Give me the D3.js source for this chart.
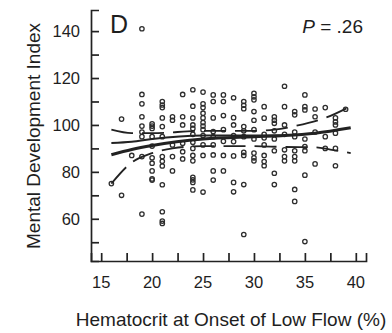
<!DOCTYPE html>
<html>
<head>
<meta charset="utf-8">
<script src="https://cdn.jsdelivr.net/npm/d3@7"></script>
<style>
  body { margin: 0; background: #fff; }
  svg text { font-family: "Liberation Sans", Arial, Helvetica, sans-serif; fill: #1e1e1e; }
</style>
</head>
<body>
<svg id="chart" width="392" height="333"></svg>
<script>
// hematocrit columns and the MDI scores
var hctColumns = [16, 17, 18, 19, 20, 21, 22, 23, 24, 25, 26, 27, 28, 29, 30, 31, 32, 33, 34, 35, 36, 37, 38, 39];
var mdiByColumn = [
  [75],
  [102.5, 70],
  [87],
  [141, 113, 109, 103.5, 99.5, 97, 95, 86.5, 62],
  [100.5, 99.5, 98.5, 95, 91, 86, 83.7, 80.4, 77, 76.5],
  [110, 108.5, 107.4, 103, 99.3, 95, 86.5, 84.5, 82.5, 74.5, 63, 59, 58],
  [103.5, 102, 91.5, 86.5, 80.4],
  [113, 103.5, 100, 92.2, 88.6, 85.5],
  [115, 108, 103, 100, 98.5, 96, 92.6, 90, 87, 84.7, 77.7, 76.6, 75.5, 72.3],
  [114, 109, 107.4, 105, 103, 101, 99.5, 98, 95.5, 91.5, 87, 71.4],
  [112.8, 110, 103, 97.2, 95, 91.5, 87.2, 80.4, 76.5],
  [112.8, 110, 104, 98, 93, 87, 80.4],
  [111.6, 103.1, 100, 95.5, 92.9, 86.8, 75.5, 71.5],
  [110, 108.4, 106.9, 99.3, 97.5, 95, 88.3, 87, 74.6, 53.3],
  [113.5, 112, 110.7, 105.7, 102, 98, 94, 88, 86, 84.7],
  [107.8, 102.9, 96, 94.5, 91.5, 87, 84.4, 82.6],
  [103.5, 102, 100.7, 97.5, 94, 89, 79.4, 74.6],
  [116.5, 107.8, 100, 96, 89.4, 86.5, 84.7],
  [105.7, 104.3, 97, 95, 89, 86.5, 84.7, 72.5, 67.4],
  [112.8, 107.8, 106.4, 94, 90.8, 89, 78.6, 50.3],
  [106.8, 103.5, 97, 83.4],
  [107.4, 95, 90],
  [103, 101.3, 100, 96.5, 90, 82.6],
  [106.7]
];

// fitted curves (x knots, y values)
var fitX = [16, 18, 20, 25, 30, 33, 36, 39.5];
var fitY = [87.3, 89.5, 91.2, 94, 95, 95.5, 96.5, 98.8];
var smoothX = [16, 18, 20, 25, 30, 33];
var smoothY = [92.3, 92.8, 94, 95.5, 95.5, 95.5];
var upperX = [16, 18, 20, 25, 30, 32, 34, 37, 39.5];
var upperY = [98, 96.5, 96.5, 97.5, 97.5, 98, 99.5, 103, 108];
var lowerX = [16, 18, 20, 22, 25, 30, 33, 36, 37.5, 39.5];
var lowerY = [75, 84, 88, 90, 91, 91, 90.6, 90.5, 89.5, 88];

var xTicks = [15, 20, 25, 30, 35, 40];
var xMinorTicks = [17.5, 22.5, 27.5, 32.5, 37.5];
var yTicks = [60, 80, 100, 120, 140];
var yMinorTicks = [50, 70, 90, 110, 130];

var svg = d3.select('#chart');

var x = d3.scaleLinear().domain([14, 41]).range([91, 366]);
var y = d3.scaleLinear().domain([42, 149]).range([261, 10]);

var ink = '#222';

// axes: ticks point inward
var xAxis = d3.axisTop(x)
  .tickValues(xTicks.concat(xMinorTicks))
  .tickSize(8)
  .tickFormat('');
var gx = svg.append('g').attr('transform', 'translate(0,' + y.range()[0] + ')').call(xAxis);

var yAxis = d3.axisRight(y)
  .tickValues(yTicks.concat(yMinorTicks))
  .tickSize(8)
  .tickFormat('');
var gy = svg.append('g').attr('transform', 'translate(' + x.range()[0] + ',0)').call(yAxis);

[gx, gy].forEach(function (g) {
  g.select('.domain').attr('stroke', ink).attr('stroke-width', 1.7);
  g.selectAll('.tick line').attr('stroke', ink).attr('stroke-width', 1.7);
});

// tick labels
svg.append('g').selectAll('text')
  .data(xTicks)
  .enter().append('text')
  .attr('x', function (d) { return x(d); })
  .attr('y', 288)
  .attr('text-anchor', 'middle')
  .style('font-size', '16.5px')
  .text(function (d) { return d; });

svg.append('g').selectAll('text')
  .data(yTicks)
  .enter().append('text')
  .attr('x', 80)
  .attr('y', function (d) { return y(d); })
  .attr('dy', '0.36em')
  .attr('text-anchor', 'end')
  .style('font-size', '16.5px')
  .text(function (d) { return d; });

// axis titles
svg.append('text')
  .attr('x', 231)
  .attr('y', 326)
  .attr('text-anchor', 'middle')
  .style('font-size', '19px')
  .text('Hematocrit at Onset of Low Flow (%)');

svg.append('text')
  .attr('transform', 'translate(40,136) rotate(-90)')
  .attr('text-anchor', 'middle')
  .style('font-size', '19px')
  .text('Mental Development Index');

// panel letter and P value
svg.append('text')
  .attr('x', 110)
  .attr('y', 33)
  .style('font-size', '25px')
  .text('D');

var pText = svg.append('text')
  .attr('x', 363)
  .attr('y', 33)
  .attr('text-anchor', 'end')
  .style('font-size', '19px');
pText.append('tspan').style('font-style', 'italic').text('P');
pText.append('tspan').text(' = .26');

// points
var points = [];
hctColumns.forEach(function (h, i) {
  mdiByColumn[i].forEach(function (v) {
    points.push({ hct: h, mdi: v });
  });
});

svg.append('g').selectAll('circle')
  .data(points)
  .enter().append('circle')
  .attr('cx', function (d) { return x(d.hct); })
  .attr('cy', function (d) { return y(d.mdi); })
  .attr('r', 2.2)
  .attr('fill', 'none')
  .attr('stroke', '#2e2e2e')
  .attr('stroke-width', 1.3);

// curves
var line = d3.line()
  .x(function (d) { return x(d[0]); })
  .y(function (d) { return y(d[1]); })
  .curve(d3.curveMonotoneX);

function drawCurve(xs, ys, width, dash) {
  var path = svg.append('path')
    .datum(d3.zip(xs, ys))
    .attr('d', line)
    .attr('fill', 'none')
    .attr('stroke', ink)
    .attr('stroke-width', width);
  if (dash) {
    path.attr('stroke-dasharray', dash);
  }
}

drawCurve(upperX, upperY, 1.8, '22,9');
drawCurve(lowerX, lowerY, 1.8, '22,9');
drawCurve(smoothX, smoothY, 2, null);
drawCurve(fitX, fitY, 3, null);
</script>
</body>
</html>
